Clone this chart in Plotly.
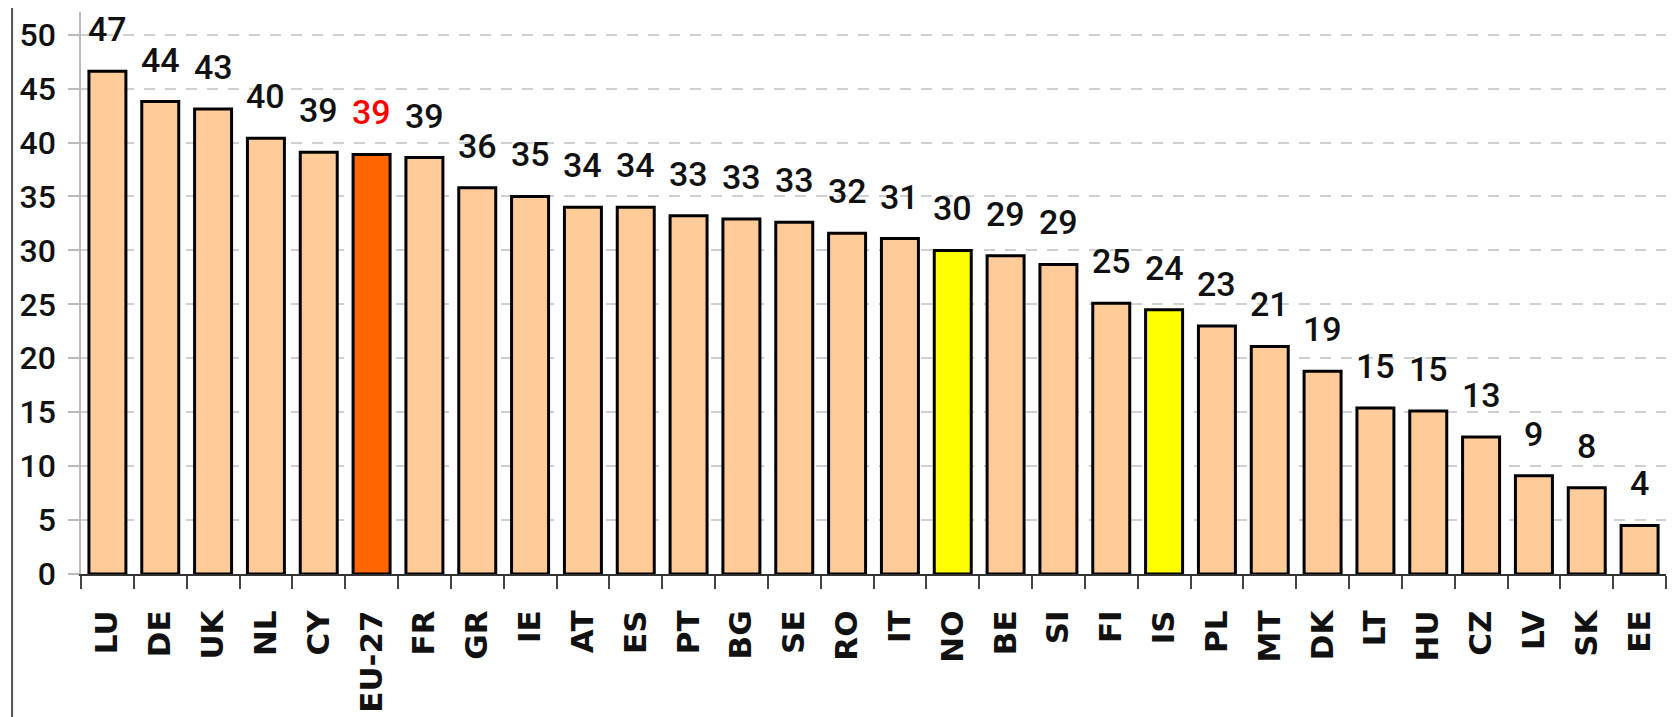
import plotly.graph_objects as go

countries = ["LU", "DE", "UK", "NL", "CY", "EU-27", "FR", "GR", "IE", "AT", "ES", "PT",
             "BG", "SE", "RO", "IT", "NO", "BE", "SI", "FI", "IS", "PL", "MT", "DK",
             "LT", "HU", "CZ", "LV", "SK", "EE"]
values = [46.6, 43.8, 43.1, 40.4, 39.1, 38.9, 38.6, 35.8, 35.0, 34.0, 34.0, 33.2,
          32.9, 32.6, 31.6, 31.1, 30.0, 29.5, 28.7, 25.1, 24.5, 23.0, 21.1, 18.8,
          15.4, 15.1, 12.7, 9.1, 8.0, 4.5]
value_labels = ["47", "44", "43", "40", "39", "39", "39", "36", "35", "34", "34", "33",
                "33", "33", "32", "31", "30", "29", "29", "25", "24", "23", "21", "19",
                "15", "15", "13", "9", "8", "4"]
aggregate = ["EU-27"]
non_eu = ["NO", "IS"]
y_ticks = [0, 5, 10, 15, 20, 25, 30, 35, 40, 45, 50]

BASE = "#FFCC99"
AGG = "#FF6600"
NONEU = "#FFFF00"
colors = [AGG if c in aggregate else NONEU if c in non_eu else BASE for c in countries]

NUM_FONT = "Roboto, Liberation Sans Narrow, sans-serif"

fig = go.Figure()
fig.add_trace(go.Bar(
    x=countries, y=values,
    marker=dict(color=colors, line=dict(color="#000000", width=3)),
    hoverinfo="x+y",
))

for c, v, t in zip(countries, values, value_labels):
    fig.add_annotation(
        x=c, y=v, text=t, showarrow=False,
        yanchor="bottom", xanchor="center", yshift=20,
        font=dict(family=NUM_FONT, size=34, weight=500,
                  color="#FF0000" if c in aggregate else "#111111"),
    )

# left frame line of the original picture
fig.add_shape(type="line", xref="paper", yref="paper",
              x0=-0.0435, x1=-0.0435, y0=-0.27, y1=1.03,
              line=dict(color="#555555", width=2))

# the page adds an 8px body margin, so the figure is shrunk by that much
fig.update_layout(
    width=1670, height=709,
    margin=dict(l=73, r=12, t=4, b=143),
    paper_bgcolor="white", plot_bgcolor="white",
    bargap=0.3,
    showlegend=False,
)
fig.update_xaxes(
    type="category",
    tickangle=-90,
    tickfont=dict(family="DejaVu Sans", size=31, color="#111111", weight="bold"),
    ticks="outside", ticklen=13, tickwidth=1.5, tickcolor="#444444",
    tickson="boundaries",
    showline=True, linecolor="#333333", linewidth=2,
    showgrid=False,
    ticklabelstandoff=22,
    automargin=False,
)
fig.update_yaxes(
    range=[0, 52.1],
    tickvals=y_ticks,
    tickfont=dict(family=NUM_FONT, size=32, color="#111111", weight=500),
    ticks="outside", ticklen=11, tickwidth=1.5, tickcolor="#BBBBBB",
    showline=True, linecolor="#BBBBBB", linewidth=1.5,
    showgrid=True, gridcolor="#D0D0D0", gridwidth=2, griddash="11px,10px",
    zeroline=False,
    ticklabelstandoff=6,
    automargin=False,
)

fig.write_html("out.html")
